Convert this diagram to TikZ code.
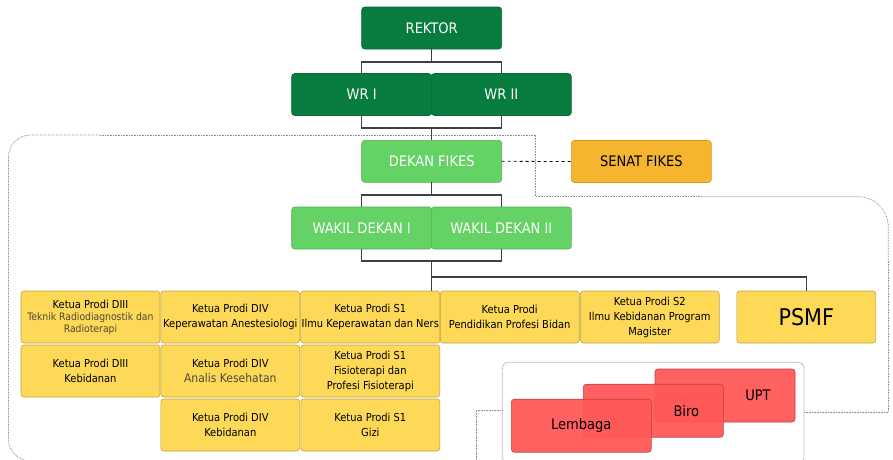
\documentclass[tikz,border=0pt]{standalone}
\usepackage{fontspec}
\setmainfont{DejaVu Sans Condensed}
\definecolor{dgreen}{HTML}{087C3F}
\definecolor{lgreen}{HTML}{64D264}
\definecolor{yel}{HTML}{FDD957}
\definecolor{org}{HTML}{F5B52E}
\definecolor{rd}{HTML}{FF5757}
\definecolor{subc}{HTML}{4A4A3A}
\begin{document}
\begin{tikzpicture}[x=1pt,y=-1pt,
  box/.style={rounded corners=3pt, inner sep=1pt, outer sep=0pt, align=center, line width=0.6pt},
  dg/.style={box, minimum width=140pt, minimum height=42pt, fill=dgreen, draw=dgreen!85!black, text=white, font=\fontsize{14.5}{16}\selectfont},
  lg/.style={box, minimum width=140pt, minimum height=42pt, fill=lgreen, draw=lgreen!85!black, text=white, font=\fontsize{14.5}{16}\selectfont},
  og/.style={box, minimum width=140pt, minimum height=42pt, fill=org, draw=org!85!black, text=black, font=\fontsize{14.5}{16}\selectfont},
  yb/.style={box, minimum width=139pt, minimum height=52pt, fill=yel, draw=yel!75!black, text=black, font=\fontsize{11}{15}\selectfont},
  rb/.style={box, minimum width=140pt, minimum height=53pt, fill=rd, fill opacity=0.95, text opacity=1, draw=rd!75!black, text=black, font=\fontsize{14.5}{16}\selectfont},
  conn/.style={draw=black!75, line width=1.3pt},
  dotl/.style={draw=black!45, dash pattern=on 0.8pt off 0.8pt, line width=0.7pt}
]
\useasboundingbox (0,0) rectangle (893,459);

% dotted boundaries
\draw[dotl] (804,412.3) -- (888.3,412.3) -- (888.3,260);
\draw[dotl, rounded corners=30pt] (888.3,260) -- (888.3,196.7) -- (700,196.7);
\draw[dotl] (700,196.7) -- (535.7,196.7) -- (535.7,135) -- (100,135);
\draw[dotl, rounded corners=22pt] (100,135) -- (8.5,135) -- (8.5,461) -- (476,461);
\draw[dotl] (502.3,410) -- (476,410) -- (476,462);
\draw[dotl, rounded corners=6pt] (502.3,362.3) rectangle (804,463);

% top levels
\node[dg] (rektor) at (431.7,28) {REKTOR};
\node[dg] (wr1) at (361.7,94.5) {WR I};
\node[dg] (wr2) at (501.3,94.5) {WR II};
\node[lg] (dekan) at (431.7,161.3) {DEKAN FIKES};
\node[og] (senat) at (641.3,161.5) {SENAT FIKES};
\node[lg] (wk1) at (361.7,228) {WAKIL DEKAN I};
\node[lg] (wk2) at (501.3,228) {WAKIL DEKAN II};

% prodi
\node[yb, font=\fontsize{11}{12}\selectfont] (c11) at (90.5,317) {Ketua Prodi DIII\\\textcolor{subc}{\fontsize{10.3}{12}\selectfont Teknik Radiodiagnostik dan}\\\textcolor{subc}{\fontsize{10.3}{12}\selectfont Radioterapi}};
\node[yb] (c12) at (230.3,317) {Ketua Prodi DIV\\Keperawatan Anestesiologi};
\node[yb] (c13) at (370.3,317) {Ketua Prodi S1\\Ilmu Keperawatan dan Ners};
\node[yb] (c14) at (509.7,317) {Ketua Prodi\\Pendidikan Profesi Bidan};
\node[yb] (c15) at (649.7,317) {Ketua Prodi S2\\Ilmu Kebidanan Program\\Magister};
\node[yb, font=\fontsize{23}{26}\selectfont] (psmf) at (806.3,317) {PSMF};
\node[yb] (c21) at (90.5,371) {Ketua Prodi DIII\\Kebidanan};
\node[yb] (c22) at (230.3,371) {Ketua Prodi DIV\\\textcolor{subc}{\fontsize{12}{14}\selectfont Analis Kesehatan}};
\node[yb] (c23) at (370.3,371) {Ketua Prodi S1\\Fisioterapi dan\\Profesi Fisioterapi};
\node[yb] (c32) at (230.3,425) {Ketua Prodi DIV\\Kebidanan};
\node[yb] (c33) at (370.3,425) {Ketua Prodi S1\\Gizi};

% red units
\node[rb] (upt) at (725,395.5) {\hspace*{66pt}UPT};
\node[rb] (biro) at (653.3,410.7) {\hspace*{66pt}Biro};
\node[rb] (lembaga) at (581.3,425.7) {Lembaga};

% connectors
\coordinate (b1) at (431.7,62);
\coordinate (b2) at (431.7,128);
\coordinate (b3) at (431.7,195);
\coordinate (b4) at (431.7,261);
\coordinate (b5) at (431.7,277);
\draw[conn] (rektor.south) -- (b1);
\draw[conn] (wr1.north) |- (b1) -| (wr2.north);
\draw[conn] (wr1.south) |- (b2) -| (wr2.south);
\draw[conn] (b2) -- (dekan.north);
\draw[conn] (dekan.south) -- (b3);
\draw[conn] (wk1.north) |- (b3) -| (wk2.north);
\draw[conn] (wk1.south) |- (b4) -| (wk2.south);
\draw[conn] (b4) -- (b5) -| (psmf.north);
\draw[conn] (b5) -- (b5 |- c13.north);
\draw[dashed, line width=0.8pt] (dekan.east) -- (senat.west);
\end{tikzpicture}
\end{document}
